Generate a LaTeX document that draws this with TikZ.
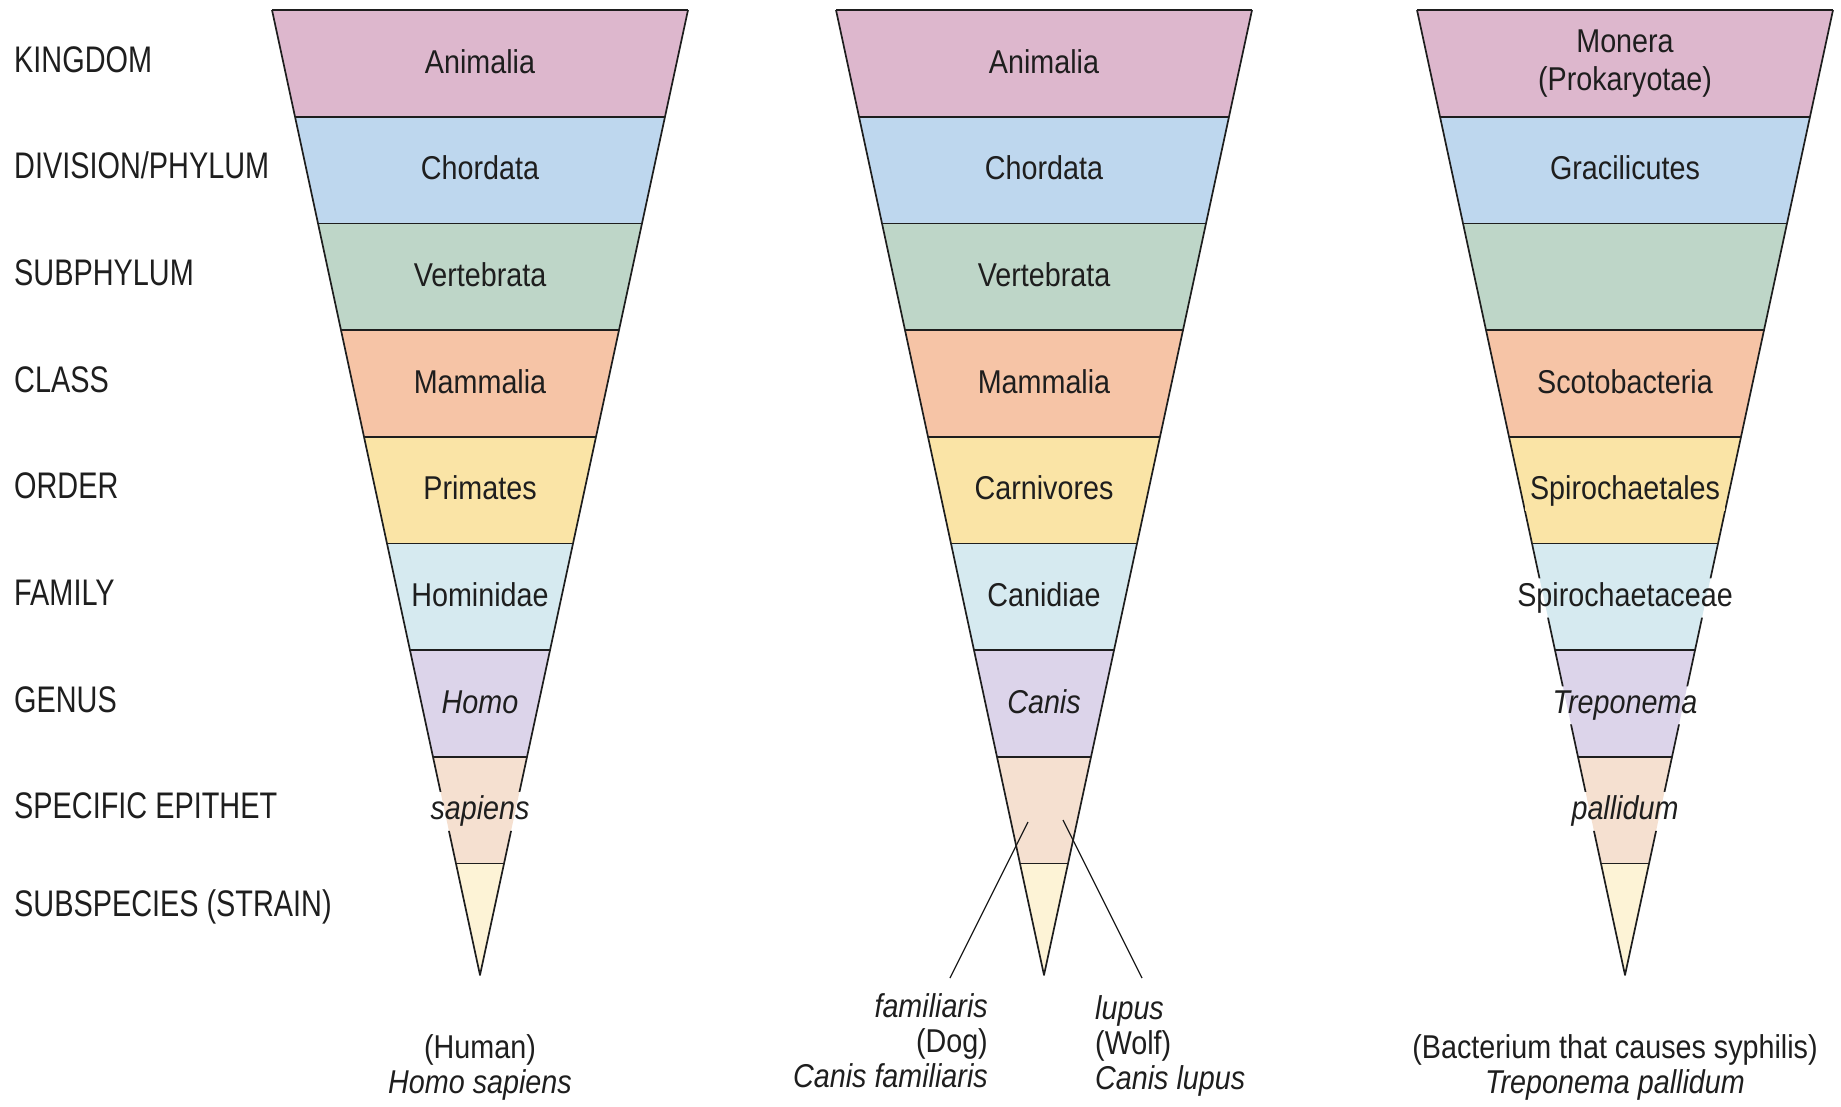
\documentclass[tikz,border=0pt]{standalone}
\usepackage{fontspec}
\setmainfont[FakeStretch=0.87]{Liberation Sans}
\newfontfamily\rankfont[FakeStretch=0.78]{Liberation Sans}
\usetikzlibrary{positioning}

\definecolor{kingdomc}{RGB}{221,183,205}
\definecolor{phylumc}{RGB}{190,215,238}
\definecolor{subphylc}{RGB}{190,214,200}
\definecolor{classc}{RGB}{246,196,166}
\definecolor{orderc}{RGB}{250,228,166}
\definecolor{familyc}{RGB}{214,234,240}
\definecolor{genusc}{RGB}{220,212,234}
\definecolor{speciesc}{RGB}{245,224,208}
\definecolor{strainc}{RGB}{253,243,214}
\definecolor{inkc}{RGB}{30,30,30}

\tikzstyle{band}=[draw=inkc, line width=1.7pt, line join=round]
\tikzstyle{taxon}=[anchor=base, inner sep=0pt, text=inkc, font=\fontsize{33}{38}\selectfont]
\tikzstyle{rank}=[anchor=base west, inner sep=0pt, text=inkc, font=\rankfont\fontsize{37}{40}\selectfont]
\tikzstyle{caption}=[anchor=base, inner sep=0pt, text=inkc, font=\fontsize{33}{35}\selectfont]
\tikzstyle{pointer}=[draw=inkc, line width=1.3pt]

% bands of one cone, centred at x = #1
\newcommand{\taxcone}[1]{%
  \foreach \i/\col in {0/kingdomc,1/phylumc,2/subphylc,3/classc,4/orderc,
                       5/familyc,6/genusc,7/speciesc,8/strainc}{
    \pgfmathsetmacro{\ya}{10+106.7*\i}
    \pgfmathsetmacro{\yb}{\i==8 ? 975 : \ya+106.7}
    \pgfmathsetmacro{\wa}{0.21554*(975-\ya)}
    \pgfmathsetmacro{\wb}{0.21554*(975-\yb)}
    \fill[\col] (#1-\wa,\ya) -- (#1+\wa,\ya) -- (#1+\wb,\yb) -- (#1-\wb,\yb) -- cycle;
    \draw[band] (#1-\wa,\ya) -- (#1+\wa,\ya);
  }}
% outline of one cone
\newcommand{\coneedge}[1]{\draw[band] (#1-208,10) -- (#1,975) -- (#1+208,10);}
% gap round a label (turns the other way, so it cuts a hole in the clip)
\newcommand{\gapbox}[1]{([xshift=-5pt,yshift=-4pt]#1.south west) rectangle ([xshift=5pt,yshift=4pt]#1.north east)}

\begin{document}
\begin{tikzpicture}[x=1pt, y=-1pt]
\useasboundingbox (0,0) rectangle (1841,1106);

\taxcone{480}
\taxcone{1044}
\taxcone{1625}

% rank names
\foreach \i/\txt in {0/KINGDOM,1/{DIVISION/PHYLUM},2/SUBPHYLUM,3/CLASS,
                     4/ORDER,5/FAMILY,6/GENUS,7/{SPECIFIC EPITHET}}
  \node[rank] (rank\i) at (14, 10+106.7*\i+62) {\txt};
\node[rank] (rank8) at (14, 916) {SUBSPECIES (STRAIN)};

% human
\foreach \i/\txt in {0/Animalia,1/Chordata,2/Vertebrata,3/Mammalia,4/Primates,
                     5/Hominidae,6/\textit{Homo},7/\textit{sapiens}}
  \node[taxon] (hum\i) at (480, 10+106.7*\i+63) {\txt};

% dog and wolf
\foreach \i/\txt in {0/Animalia,1/Chordata,2/Vertebrata,3/Mammalia,4/Carnivores,
                     5/Canidiae,6/\textit{Canis}}
  \node[taxon] (dog\i) at (1044, 10+106.7*\i+63) {\txt};

% bacterium
\node[taxon, anchor=center, align=center] (bac0) at (1625, 64) {Monera\\(Prokaryotae)};
\foreach \i/\txt in {1/Gracilicutes,3/Scotobacteria,4/Spirochaetales,
                     5/Spirochaetaceae,6/\textit{Treponema},7/\textit{pallidum}}
  \node[taxon] (bac\i) at (1625, 10+106.7*\i+63) {\txt};

% outlines, broken where a label runs over them
\begin{scope}
  \clip (250,0) rectangle (720,1000) \gapbox{hum7};
  \coneedge{480}
\end{scope}
\coneedge{1044}
\begin{scope}
  \clip (1380,0) rectangle (1841,1000)
    \gapbox{bac4} \gapbox{bac5} \gapbox{bac6} \gapbox{bac7};
  \coneedge{1625}
\end{scope}

% common names
\node[caption, align=center] (human) at (480, 1093) {(Human)\\\textit{Homo sapiens}};
\node[caption, align=right, anchor=base east] (dog) at (988, 1087)
  {\textit{familiaris}\\(Dog)\\\textit{Canis familiaris}};
\node[caption, align=left, anchor=base west] (wolf) at (1095, 1089)
  {\textit{lupus}\\(Wolf)\\\textit{Canis lupus}};
\node[caption, align=center] (bact) at (1615, 1093)
  {(Bacterium that causes syphilis)\\\textit{Treponema pallidum}};

\coordinate (dogtip)  at (1028, 822);
\coordinate (dogend)  at (950, 978);
\coordinate (wolftip) at (1063, 820);
\coordinate (wolfend) at (1142, 978);
\draw[pointer] (dogtip) -- (dogend);
\draw[pointer] (wolftip) -- (wolfend);
\end{tikzpicture}
\end{document}
